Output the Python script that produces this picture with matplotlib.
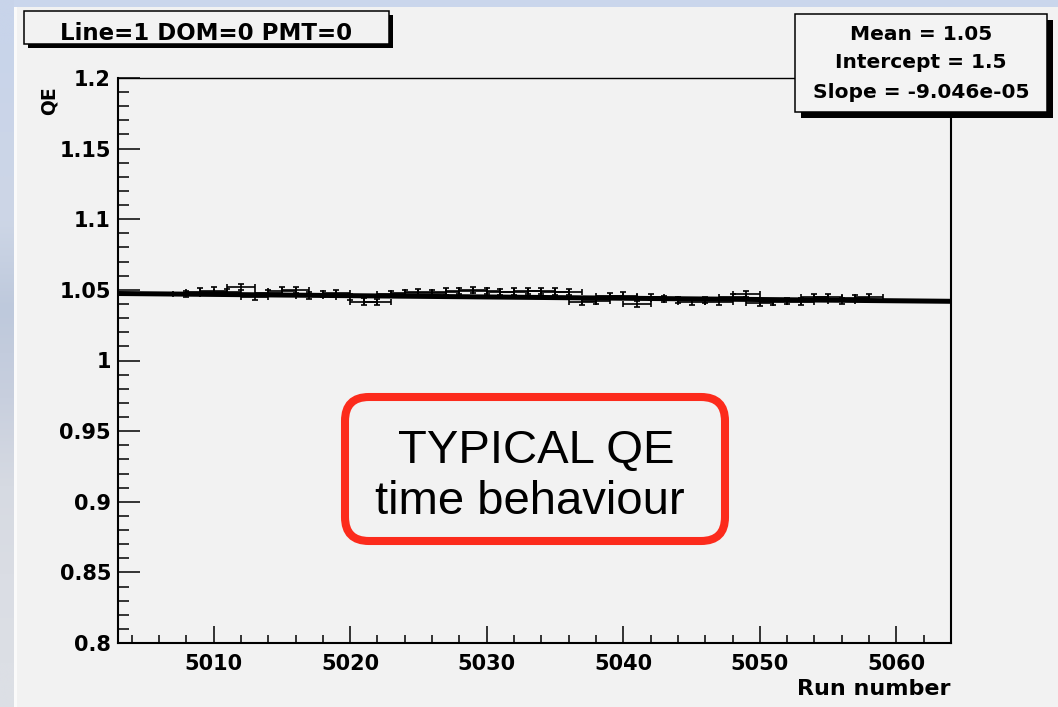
import numpy as np
import matplotlib
matplotlib.use("Agg")
import matplotlib.pyplot as plt
from matplotlib.patches import Rectangle, FancyBboxPatch
from matplotlib.ticker import MultipleLocator, FuncFormatter

# ---------------- data ----------------
runs = list(range(5008, 5059))
qe = [1.0470, 1.0488, 1.0495, 1.0485, 1.0518, 1.0452, 1.0476, 1.0495, 1.0497, 1.0460,
      1.0469, 1.0476, 1.0447, 1.0417, 1.0412, 1.0470, 1.0478, 1.0483, 1.0476, 1.0488,
      1.0492, 1.0497, 1.0492, 1.0483, 1.0488, 1.0492, 1.0492, 1.0488, 1.0483, 1.0412,
      1.0421, 1.0457, 1.0460, 1.0400, 1.0452, 1.0435, 1.0428, 1.0412, 1.0428, 1.0417,
      1.0452, 1.0469, 1.0405, 1.0412, 1.0424, 1.0417, 1.0452, 1.0452, 1.0421, 1.0445,
      1.0452]
qe_err = [0.0022] * len(runs)
run_err = [1.0] * len(runs)

fit_intercept = 1.5
fit_slope = -9.046e-05
x_range = [5003, 5064]
y_range = [0.8, 1.2]

title_text = "Line=1 DOM=0 PMT=0"
stats_lines = ["Mean = 1.05", "Intercept = 1.5", "Slope = -9.046e-05"]
note_lines = ["TYPICAL QE", "time behaviour"]
x_label = "Run number"
y_label = "QE"

# ---------------- style ----------------
plt.rcParams["font.family"] = ["DejaVu Sans"]
plt.rcParams["font.weight"] = "bold"
plt.rcParams["axes.labelweight"] = "bold"

W, H = 1058, 707
fig = plt.figure(figsize=(W / 100, H / 100), dpi=100)
fig.patch.set_facecolor("#cad6ec")

# background layer (pixel coordinates)
bg = fig.add_axes([0, 0, 1, 1], zorder=-10)
bg.set_xlim(0, W)
bg.set_ylim(H, 0)
bg.axis("off")
grad_colors = np.array([
    [200, 212, 234], [203, 213, 232], [205, 214, 230], [190, 201, 220],
    [200, 207, 222], [214, 218, 226], [218, 221, 228], [220, 223, 229]]) / 255.0
grad = np.repeat(grad_colors[:, None, :], 2, axis=1)
bg.imshow(grad, extent=(0, 14, H, 0), aspect="auto", interpolation="bilinear")
bg.add_patch(Rectangle((14, 7), W - 14, H - 7, facecolor="#f2f2f2", edgecolor="none"))
bg.add_patch(Rectangle((14, 7), 3, H - 7, facecolor="#fafafa", edgecolor="none"))
bg.set_xlim(0, W)
bg.set_ylim(H, 0)

# ---------------- main plot ----------------
left, right, top, bottom = 118, 951, 78, 643
ax = fig.add_axes([left / W, 1 - bottom / H, (right - left) / W, (bottom - top) / H])
ax.set_facecolor("#f2f2f2")

ax.errorbar(runs, qe, yerr=qe_err, xerr=run_err, fmt="none", ecolor="black",
            elinewidth=1.2, capsize=2.2, capthick=1.2, zorder=2)
xf = np.array(x_range, dtype=float)
ax.plot(xf, fit_intercept + fit_slope * xf, color="black", lw=3.6,
        solid_capstyle="butt", zorder=3)

ax.set_xlim(*x_range)
ax.set_ylim(*y_range)
ax.xaxis.set_major_locator(MultipleLocator(10))
ax.xaxis.set_minor_locator(MultipleLocator(2))
ax.yaxis.set_major_locator(MultipleLocator(0.05))
ax.yaxis.set_minor_locator(MultipleLocator(0.01))
ax.yaxis.set_major_formatter(FuncFormatter(lambda v, p: "%g" % round(v, 4)))
ax.tick_params(axis="both", which="both", direction="in", top=False, right=False,
               width=1.1, labelsize=15)
ax.tick_params(axis="y", which="major", length=16, pad=5)
ax.tick_params(axis="y", which="minor", length=8)
ax.tick_params(axis="x", which="major", length=12.5, pad=8)
ax.tick_params(axis="x", which="minor", length=6)
for s in ["left", "bottom", "right"]:
    ax.spines[s].set_linewidth(1.5)
ax.spines["top"].set_linewidth(1.0)

ax.set_xlabel(x_label, fontsize=16, fontweight="bold", loc="right")
ax.xaxis.set_label_coords(1.0, -0.064)
ax.set_ylabel(y_label, fontsize=13.5, fontweight="bold", loc="top")
ax.yaxis.set_label_coords(-0.071, 0.986)

# ---------------- overlay boxes ----------------
fg = fig.add_axes([0, 0, 1, 1], zorder=10)
fg.set_xlim(0, W)
fg.set_ylim(H, 0)
fg.axis("off")
fg.patch.set_alpha(0)

# title box
fg.add_patch(Rectangle((28, 15), 365, 33, facecolor="black", edgecolor="none"))
fg.add_patch(Rectangle((24, 11), 365, 33, facecolor="#f2f2f2", edgecolor="black", lw=1.1))
fg.text(206, 39.5, title_text, ha="center", va="baseline", fontsize=16.5, fontweight="bold")

# stats box
fg.add_patch(Rectangle((801, 20), 252, 98, facecolor="black", edgecolor="none"))
fg.add_patch(Rectangle((795, 14), 252, 98, facecolor="#f3f3f3", edgecolor="black", lw=1.1))
for yb, line in zip([39.5, 68.5, 97.5], stats_lines):
    fg.text(921, yb, line, ha="center", va="baseline", fontsize=14.5, fontweight="bold")

# red note box
fg.add_patch(FancyBboxPatch((345, 397), 380, 144,
                            boxstyle="round,pad=0,rounding_size=24",
                            facecolor="#f2f2f2", edgecolor="#fc2b1c", lw=5.8))
fg.text(536, 463, note_lines[0], ha="center", va="baseline", fontsize=34,
        fontweight="normal", family=["Liberation Sans", "DejaVu Sans"])
fg.text(530, 514, note_lines[1], ha="center", va="baseline", fontsize=34,
        fontweight="normal", family=["Liberation Sans", "DejaVu Sans"])

fig.savefig("out.png", dpi=100)
